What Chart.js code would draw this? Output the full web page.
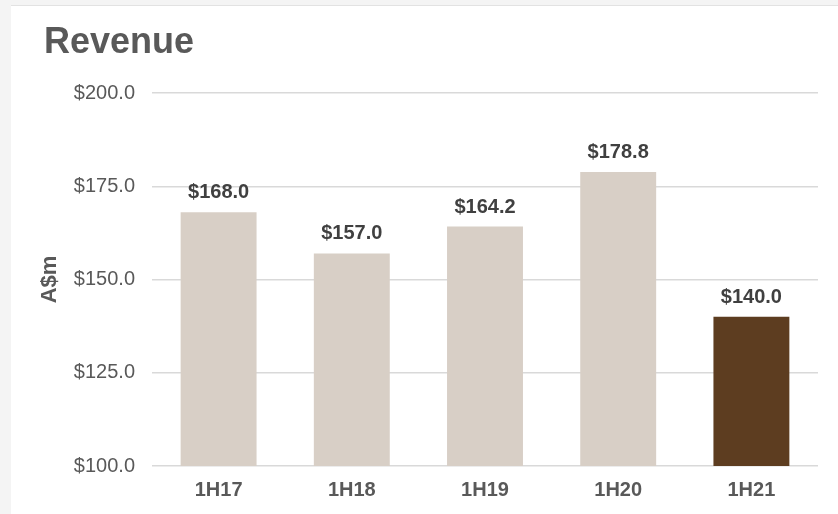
<!DOCTYPE html>
<html>
<head>
<meta charset="utf-8">
<script src="https://cdn.jsdelivr.net/npm/chart.js@4.4.1/dist/chart.umd.min.js"></script>
<style>
  html, body { margin: 0; padding: 0; background: #f4f4f4; width: 838px; height: 514px; overflow: hidden; }
  #wrap { position: absolute; left: 11px; top: 5px; width: 827px; height: 508px; background: #ffffff; border-top: 1px solid #e2e2e2; }
  canvas { display: block; }
</style>
</head>
<body>
<div id="wrap"><canvas id="c" width="827" height="508"></canvas></div>
<script>
const chartTitle = 'Revenue';
const yAxisTitle = 'A$m';
const categories = ['1H17', '1H18', '1H19', '1H20', '1H21'];
const revenue = [168.0, 157.0, 164.2, 178.8, 140.0];
const yTickValues = [100, 125, 150, 175, 200];

const FONT = '"Liberation Sans", Arial, sans-serif';
const LIGHT = '#d8cfc6';
const DARK = '#5d3d20';

const valueLabels = {
  id: 'valueLabels',
  afterDatasetsDraw(chart) {
    const ctx = chart.ctx;
    const meta = chart.getDatasetMeta(0);
    ctx.save();
    ctx.font = 'bold 20px ' + FONT;
    ctx.fillStyle = '#404040';
    ctx.textAlign = 'center';
    ctx.textBaseline = 'alphabetic';
    meta.data.forEach((bar, i) => {
      ctx.fillText('$' + revenue[i].toFixed(1), bar.x, bar.y - 14);
    });
    ctx.restore();
  }
};

new Chart(document.getElementById('c'), {
  type: 'bar',
  data: {
    labels: categories,
    datasets: [{
      data: revenue,
      backgroundColor: (c) => c.dataIndex === categories.length - 1 ? DARK : LIGHT,
      borderWidth: 0,
      barPercentage: 0.57,
      categoryPercentage: 1.0
    }]
  },
  options: {
    responsive: false,
    animation: false,
    events: [],
    layout: { padding: { left: 33, right: 20, top: 0, bottom: 0 } },
    plugins: {
      legend: { display: false },
      tooltip: { enabled: false },
      title: {
        display: true,
        text: chartTitle,
        align: 'start',
        color: '#595959',
        font: { family: FONT, size: 36, weight: 'bold', lineHeight: 1.2 },
        padding: { top: 15, bottom: 28.8 }
      }
    },
    scales: {
      x: {
        grid: { display: false, drawTicks: false },
        border: { display: false },
        ticks: {
          color: '#595959',
          padding: 12,
          font: { family: FONT, size: 20, weight: 'bold' }
        },
        afterFit: (s) => { s.height = 48; }
      },
      y: {
        min: 100,
        max: 200,
        afterBuildTicks: (s) => { s.ticks = yTickValues.map(v => ({ value: v })); },
        grid: { color: '#d9d9d9', lineWidth: 1.5, drawTicks: false },
        border: { display: false },
        ticks: {
          color: '#595959',
          padding: 17,
          font: { family: FONT, size: 20 },
          callback: (v) => '$' + Number(v).toFixed(1)
        },
        title: {
          display: true,
          text: yAxisTitle,
          color: '#595959',
          font: { family: FONT, size: 22, weight: 'bold', lineHeight: 0.5 },
          padding: 0
        },
        afterFit: (s) => { s.width = 108; }
      }
    }
  },
  plugins: [valueLabels]
});
</script>
</body>
</html>
